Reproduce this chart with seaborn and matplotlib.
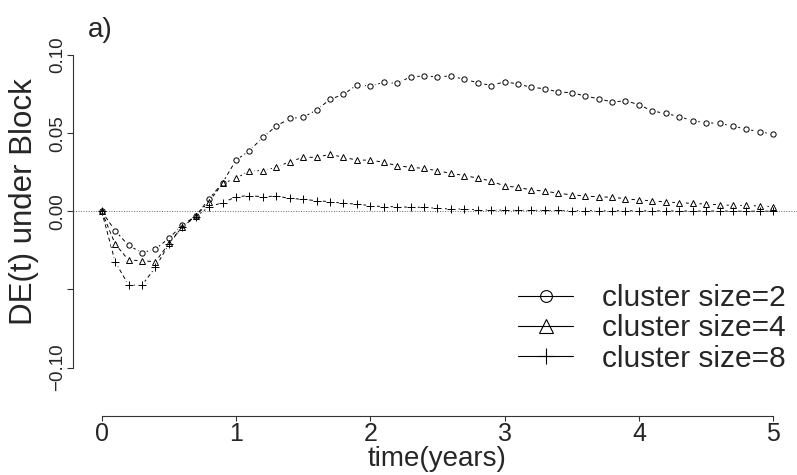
import numpy as np
import pandas as pd
import matplotlib
matplotlib.use("Agg")
import matplotlib.pyplot as plt
from matplotlib.lines import Line2D
import seaborn as sns

sns.set_style("ticks")
plt.rcParams["font.family"] = ["Liberation Sans", "DejaVu Sans"]

# ── Data ──────────────────────────────────────────────────────
years = [0.0, 0.1, 0.2, 0.3, 0.4, 0.5, 0.6, 0.7, 0.8, 0.9,
         1.0, 1.1, 1.2, 1.3, 1.4, 1.5, 1.6, 1.7, 1.8, 1.9,
         2.0, 2.1, 2.2, 2.3, 2.4, 2.5, 2.6, 2.7, 2.8, 2.9,
         3.0, 3.1, 3.2, 3.3, 3.4, 3.5, 3.6, 3.7, 3.8, 3.9,
         4.0, 4.1, 4.2, 4.3, 4.4, 4.5, 4.6, 4.7, 4.8, 4.9,
         5.0]

de_size2 = [0.0, -0.0124, -0.0218, -0.0265, -0.0241, -0.0173, -0.0088, -0.0030, 0.0080, 0.0183,
            0.0328, 0.0388, 0.0474, 0.0546, 0.0595, 0.0602, 0.0649, 0.0717, 0.0749, 0.0809,
            0.0802, 0.0826, 0.0819, 0.0862, 0.0866, 0.0862, 0.0866, 0.0845, 0.0824, 0.0805,
            0.0830, 0.0815, 0.0794, 0.0785, 0.0764, 0.0760, 0.0738, 0.0721, 0.0700, 0.0708,
            0.0683, 0.0642, 0.0627, 0.0606, 0.0580, 0.0567, 0.0563, 0.0546, 0.0525, 0.0510,
            0.0493]

de_size4 = [0.0, -0.0209, -0.0312, -0.0316, -0.0323, -0.0205, -0.0098, -0.0030, 0.0062, 0.0179,
            0.0211, 0.0260, 0.0260, 0.0282, 0.0318, 0.0346, 0.0346, 0.0365, 0.0346, 0.0328,
            0.0328, 0.0314, 0.0292, 0.0282, 0.0275, 0.0260, 0.0243, 0.0229, 0.0213, 0.0194,
            0.0162, 0.0154, 0.0136, 0.0130, 0.0115, 0.0106, 0.0098, 0.0093, 0.0090, 0.0081,
            0.0072, 0.0068, 0.0060, 0.0055, 0.0051, 0.0047, 0.0042, 0.0038, 0.0038, 0.0034,
            0.0030]

de_size8 = [0.0, -0.0323, -0.0472, -0.0472, -0.0359, -0.0209, -0.0098, -0.0035, 0.0030, 0.0055,
            0.0093, 0.0101, 0.0093, 0.0098, 0.0083, 0.0077, 0.0068, 0.0062, 0.0051, 0.0047,
            0.0036, 0.0030, 0.0030, 0.0026, 0.0026, 0.0019, 0.0015, 0.0015, 0.0010, 0.0008,
            0.0008, 0.0007, 0.0007, 0.0006, 0.0006, 0.0005, 0.0005, 0.0004, 0.0004, 0.0004,
            0.0003, 0.0003, 0.0003, 0.0002, 0.0002, 0.0002, 0.0002, 0.0001, 0.0001, 0.0001,
            0.0001]

series_labels = ["cluster size=2", "cluster size=4", "cluster size=8"]
x_ticks = [0, 1, 2, 3, 4, 5]
x_tick_labels = ["0", "1", "2", "3", "4", "5"]
y_ticks = [-0.10, -0.05, 0.00, 0.05, 0.10]
y_tick_labels = ["\u22120.10", "", "0.00", "0.05", "0.10"]

# ── Figure / axes geometry (pixels) ───────────────────────────
W, H = 797, 475
fig = plt.figure(figsize=(W / 100, H / 100), dpi=100, facecolor="white")
ax = fig.add_axes([72.7 / W, 1 - 415.5 / H, (W - 72.7) / W, (415.5 - 41.4) / H])
ax.set_xlim(-0.216, 5.177)
ax.set_ylim(-0.1307, 0.1088)

# marker, size in plot, size in legend
marker_styles = [("o", 3.8, 8.5), ("^", 4.4, 10), ("+", 5.4, 11)]
all_series = [de_size2, de_size4, de_size8]

# R "type = b": dashed segments, with a gap around every point
for vals in all_series:
    sns.lineplot(x=years, y=vals, ax=ax, color="black", lw=0.7,
                 ls=(0, (4, 3)), estimator=None, errorbar=None, zorder=2)
for vals in all_series:
    sns.lineplot(x=years, y=vals, ax=ax, color="white", ls="", marker="o",
                 ms=6.8, mfc="white", mec="white", mew=0,
                 estimator=None, errorbar=None, zorder=2.5)

ax.axhline(0, color="#666666", lw=0.7, ls=(0, (1, 1.6)), zorder=2.7)

for vals, (mk, ms, _) in zip(all_series, marker_styles):
    sns.lineplot(x=years, y=vals, ax=ax, color="black", ls="",
                 marker=mk, ms=ms, mfc="none", mec="black", mew=0.7,
                 estimator=None, errorbar=None, zorder=3)

# ── Axes in R style ───────────────────────────────────────────
sns.despine(ax=ax, top=True, right=True)
for side in ["left", "bottom"]:
    ax.spines[side].set_linewidth(0.8)
    ax.spines[side].set_color("#333333")
ax.spines["left"].set_bounds(-0.1, 0.1)
ax.spines["bottom"].set_bounds(0, 5)

ax.set_xticks(x_ticks)
ax.set_xticklabels(x_tick_labels, fontsize=18)
ax.tick_params(axis="x", length=3.8, width=0.8, pad=0.8, color="#333333")
ax.set_yticks(y_ticks)
ax.set_yticklabels(y_tick_labels, fontsize=13.5, rotation=90, va="center")
ax.tick_params(axis="y", length=4.3, width=0.8, pad=0.6, color="#333333")

ax.set_xlabel("time(years)", fontsize=20, va="top")
ax.xaxis.set_label_coords((437 - 72.7) / (W - 72.7), (415.5 - 446.5) / (415.5 - 41.4))
ax.set_ylabel("DE(t) under Block", fontsize=22.5, va="center")
ax.yaxis.set_label_coords((24 - 72.7) / (W - 72.7), (415.5 - 201.7) / (415.5 - 41.4))

fig.text(88 / W, 1 - 30 / H, "a)", fontsize=20, ha="left", va="center")

handles = [Line2D([], [], color="black", lw=0.8, marker=mk, ms=lms,
                  mfc="none", mec="black", mew=0.8)
           for mk, _, lms in marker_styles]
ax.legend(handles, series_labels, loc="upper left", frameon=False,
          bbox_to_anchor=(518 / W, 1 - 284 / H), bbox_transform=fig.transFigure,
          fontsize=21.5, borderpad=0, borderaxespad=0, handlelength=1.85,
          handletextpad=0.95, labelspacing=0.08)

plt.savefig("out.png", dpi=100)
plt.close()
